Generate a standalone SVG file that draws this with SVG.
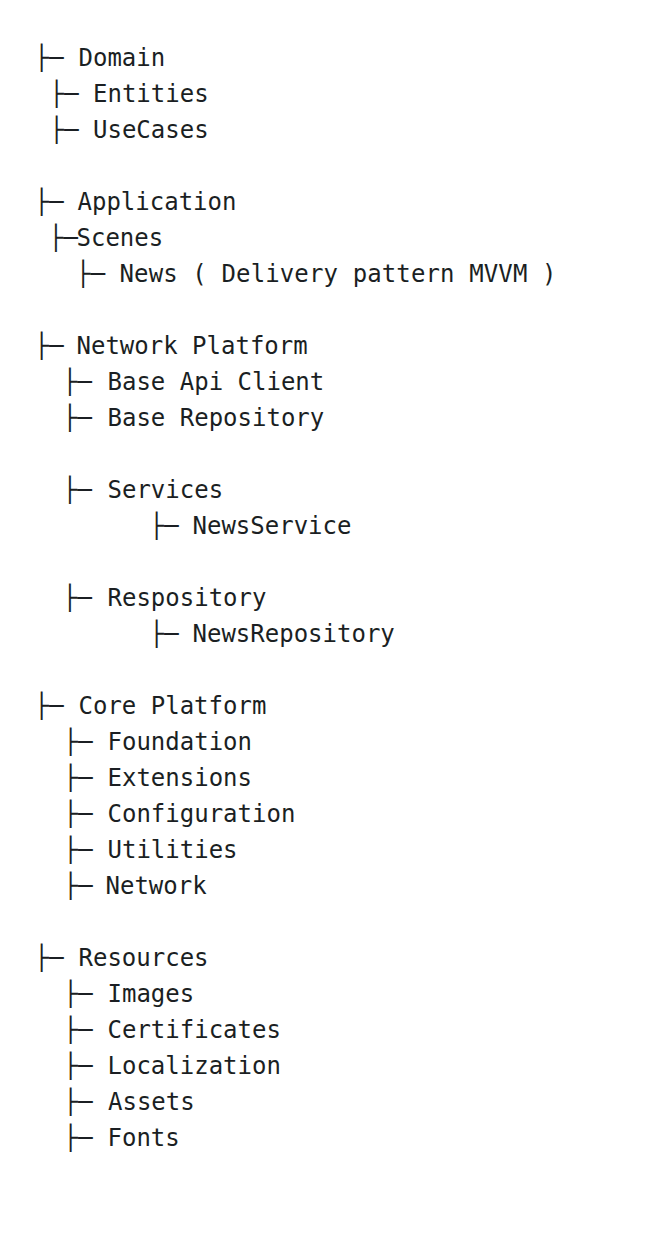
<svg xmlns="http://www.w3.org/2000/svg" width="652" height="1234" viewBox="0 0 652 1234">
<style>
text{font-family:"DejaVu Sans Mono","Liberation Mono",monospace;font-size:24px;fill:#1b1f23}
</style>
<rect width="652" height="1234" fill="#ffffff"/>
<g id="connectors">
<text x="34.5" y="66">├─</text>
<text x="49.5" y="102">├─</text>
<text x="49.5" y="138">├─</text>
<text x="34.5" y="210">├─</text>
<text x="48.8" y="246">├─</text>
<text x="76.1" y="282">├─</text>
<text x="34.5" y="354">├─</text>
<text x="62.8" y="390">├─</text>
<text x="62.8" y="426">├─</text>
<text x="62.8" y="498">├─</text>
<text x="149.5" y="534">├─</text>
<text x="62.8" y="606">├─</text>
<text x="149.5" y="642">├─</text>
<text x="34.5" y="714">├─</text>
<text x="63.5" y="750">├─</text>
<text x="63.5" y="786">├─</text>
<text x="63.5" y="822">├─</text>
<text x="63.5" y="858">├─</text>
<text x="63.5" y="894">├─</text>
<text x="34.5" y="966">├─</text>
<text x="63.5" y="1002">├─</text>
<text x="63.5" y="1038">├─</text>
<text x="63.5" y="1074">├─</text>
<text x="63.5" y="1110">├─</text>
<text x="63.5" y="1146">├─</text>
</g>
<g id="domain"><text x="78.5" y="66">Domain</text></g>
<g id="entities"><text x="93" y="102">Entities</text></g>
<g id="usecases"><text x="93" y="138">UseCases</text></g>
<g id="application"><text x="77.5" y="210">Application</text></g>
<g id="scenes"><text x="76.5" y="246">Scenes</text></g>
<g id="news"><text x="119.5" y="282" textLength="437">News ( Delivery pattern MVVM )</text></g>
<g id="network-platform"><text x="76.5" y="354">Network Platform</text></g>
<g id="base-api-client"><text x="107.5" y="390">Base Api Client</text></g>
<g id="base-repository"><text x="107.5" y="426">Base Repository</text></g>
<g id="services"><text x="107.5" y="498">Services</text></g>
<g id="newsservice"><text x="192.5" y="534">NewsService</text></g>
<g id="respository"><text x="107.5" y="606">Respository</text></g>
<g id="newsrepository"><text x="192.5" y="642">NewsRepository</text></g>
<g id="core-platform"><text x="78.5" y="714">Core Platform</text></g>
<g id="foundation"><text x="107.5" y="750">Foundation</text></g>
<g id="extensions"><text x="107.5" y="786">Extensions</text></g>
<g id="configuration"><text x="107.5" y="822">Configuration</text></g>
<g id="utilities"><text x="107.5" y="858">Utilities</text></g>
<g id="network"><text x="105.5" y="894">Network</text></g>
<g id="resources"><text x="78.5" y="966">Resources</text></g>
<g id="images"><text x="107.5" y="1002">Images</text></g>
<g id="certificates"><text x="107.5" y="1038">Certificates</text></g>
<g id="localization"><text x="107.5" y="1074">Localization</text></g>
<g id="assets"><text x="108" y="1110">Assets</text></g>
<g id="fonts"><text x="107.5" y="1146">Fonts</text></g>
</svg>
